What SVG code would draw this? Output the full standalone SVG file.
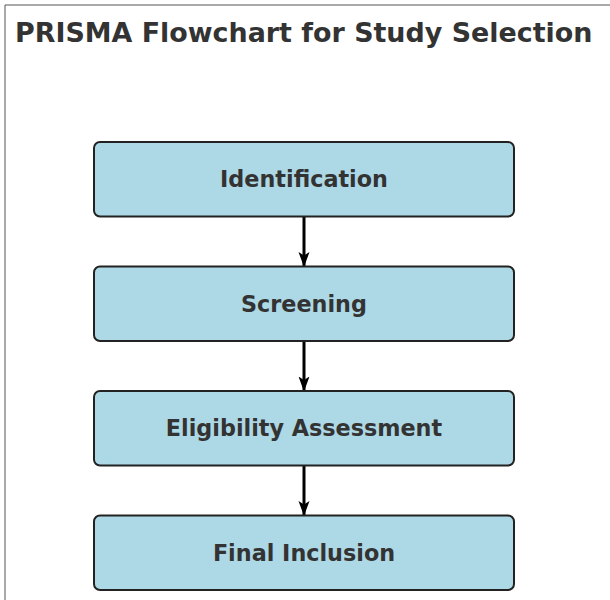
<svg xmlns="http://www.w3.org/2000/svg" width="610" height="600" viewBox="0 0 610 600">
<defs>
<style>
.title{font-family:"DejaVu Sans",sans-serif;font-weight:bold;font-size:26.9px;fill:#333333}
.box rect{fill:#ADD8E6;stroke:#222222;stroke-width:2}
.box text{font-family:"DejaVu Sans",sans-serif;font-weight:bold;font-size:22.3px;fill:#333333;text-anchor:middle}
.conn line{stroke:#000000;stroke-width:3}
</style>
<marker id="ah" markerWidth="16" markerHeight="14" viewBox="0 0 16 14" refX="15" refY="7" orient="auto" markerUnits="userSpaceOnUse">
<path d="M0,1.5 L15,7 L0,12.5 L3.5,7 Z" fill="#000000"/>
</marker>
</defs>
<rect x="0" y="0" width="610" height="600" fill="#ffffff"/>
<path d="M5,600 L5,5 L610,5" fill="none" stroke="#555555" stroke-width="1"/>
<text class="title" x="15" y="42">PRISMA Flowchart for Study Selection</text>
<g class="conn">
<line x1="304" y1="214" x2="304" y2="267" marker-end="url(#ah)"/>
<line x1="304" y1="338" x2="304" y2="391.5" marker-end="url(#ah)"/>
<line x1="304" y1="463" x2="304" y2="516" marker-end="url(#ah)"/>
</g>
<g class="box" id="identification"><rect x="94" y="142" width="420" height="74.5" rx="6"/><text x="304" y="187">Identification</text></g>
<g class="box" id="screening"><rect x="94" y="266.5" width="420" height="74.5" rx="6"/><text x="304" y="311.5">Screening</text></g>
<g class="box" id="eligibility"><rect x="94" y="391" width="420" height="74.5" rx="6"/><text x="304" y="436">Eligibility Assessment</text></g>
<g class="box" id="final"><rect x="94" y="515.5" width="420" height="74.5" rx="6"/><text x="304" y="560.5">Final Inclusion</text></g>
</svg>
